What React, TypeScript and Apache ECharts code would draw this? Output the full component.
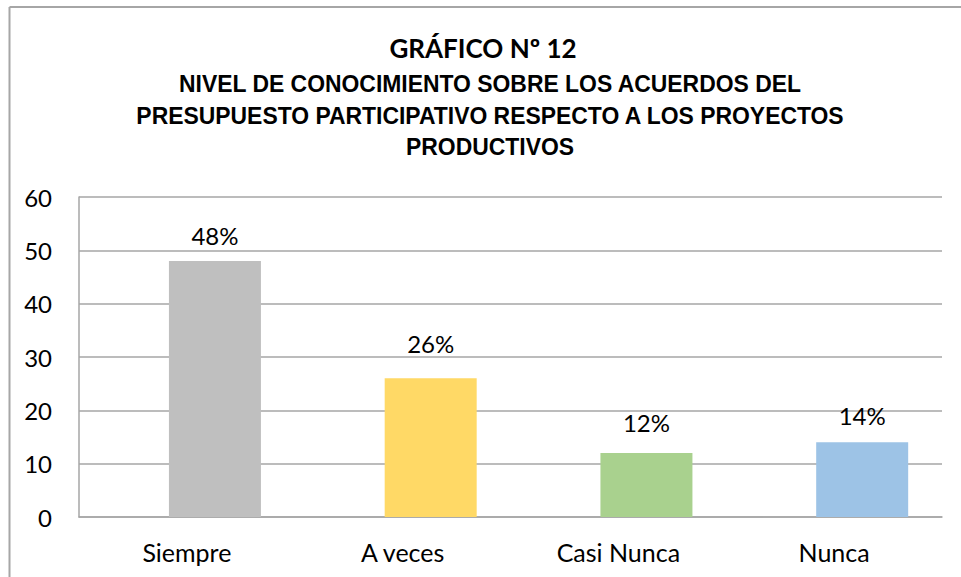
import React, { useEffect, useRef } from "react";
import * as echarts from "echarts";

const categories = ["Siempre", "A veces", "Casi Nunca", "Nunca"];
const values = [48, 26, 12, 14];
const valueLabels = ["48%", "26%", "12%", "14%"];
const barColors = ["#BFBFBF", "#FFD966", "#A9D18E", "#9DC3E6"];
const titleLine1 = "GRÁFICO Nº 12";
const titleLines = [
  "NIVEL DE CONOCIMIENTO SOBRE LOS ACUERDOS DEL",
  "PRESUPUESTO PARTICIPATIVO RESPECTO A LOS PROYECTOS",
  "PRODUCTIVOS",
];
const yMin = 0;
const yMax = 60;
const yInterval = 10;

// label vertical offsets (layout only)
const labelDy = [-9, -18, -14, -10];
const titleY = [84, 115.5, 147];

export default function App() {
  const ref = useRef<HTMLDivElement>(null);
  useEffect(() => {
    if (!ref.current) return;
    const chart = echarts.init(ref.current, undefined, { renderer: "svg" });
    const baseFont = "Lato, 'Open Sans', sans-serif";
    const titleFont = "'Liberation Sans', Arial, sans-serif";
    chart.setOption({
      animation: false,
      backgroundColor: "#ffffff",
      grid: { left: 79, right: 19, top: 197, bottom: 60, containLabel: false },
      xAxis: {
        type: "category",
        data: categories,
        axisLine: { show: true, lineStyle: { color: "#A6A6A6", width: 1.5 } },
        axisTick: { show: false },
        axisLabel: { color: "#000", fontFamily: baseFont, fontSize: 25, margin: 22 },
      },
      yAxis: {
        type: "value",
        min: yMin,
        max: yMax,
        interval: yInterval,
        axisLine: { show: true, lineStyle: { color: "#A6A6A6", width: 1.5 } },
        axisTick: { show: false },
        splitLine: { show: true, lineStyle: { color: "#A6A6A6", width: 1.5 } },
        axisLabel: { color: "#000", fontFamily: baseFont, fontSize: 24, margin: 27 },
      },
      series: [
        {
          type: "bar",
          data: categories.map(() => "-"),
          barWidth: 92,
          barGap: "-39%",
          silent: true,
        },
        {
          type: "bar",
          barWidth: 92,
          barGap: "-39%",
          data: values.map((v, i) => ({
            value: v,
            itemStyle: { color: barColors[i] },
            label: {
              show: true,
              position: "top",
              distance: 5,
              offset: [0, labelDy[i]],
              formatter: valueLabels[i],
              color: "#000",
              fontFamily: baseFont,
              fontSize: 24,
            },
          })),
        },
      ],
      graphic: [
        {
          type: "line",
          shape: { x1: 9.5, y1: 7, x2: 961, y2: 7 },
          style: { stroke: "#A6A6A6", lineWidth: 2 },
        },
        {
          type: "line",
          shape: { x1: 9.5, y1: 7, x2: 9.5, y2: 577 },
          style: { stroke: "#A6A6A6", lineWidth: 2 },
        },
        {
          type: "text",
          x: 483,
          y: 48,
          style: {
            text: titleLine1,
            fill: "#000",
            font: `bold 26px ${baseFont}`,
            textAlign: "center",
            textVerticalAlign: "middle",
          },
        },
        ...titleLines.map((t, i) => ({
          type: "text",
          x: 490,
          y: titleY[i],
          scaleX: 0.955,
          style: {
            text: t,
            fill: "#000",
            font: `bold 24px ${titleFont}`,
            textAlign: "center",
            textVerticalAlign: "middle",
          },
        })),
      ],
    });
    return () => chart.dispose();
  }, []);
  return (
    <div
      ref={ref}
      style={{ position: "absolute", left: 0, top: 0, width: 961, height: 577 }}
    />
  );
}
